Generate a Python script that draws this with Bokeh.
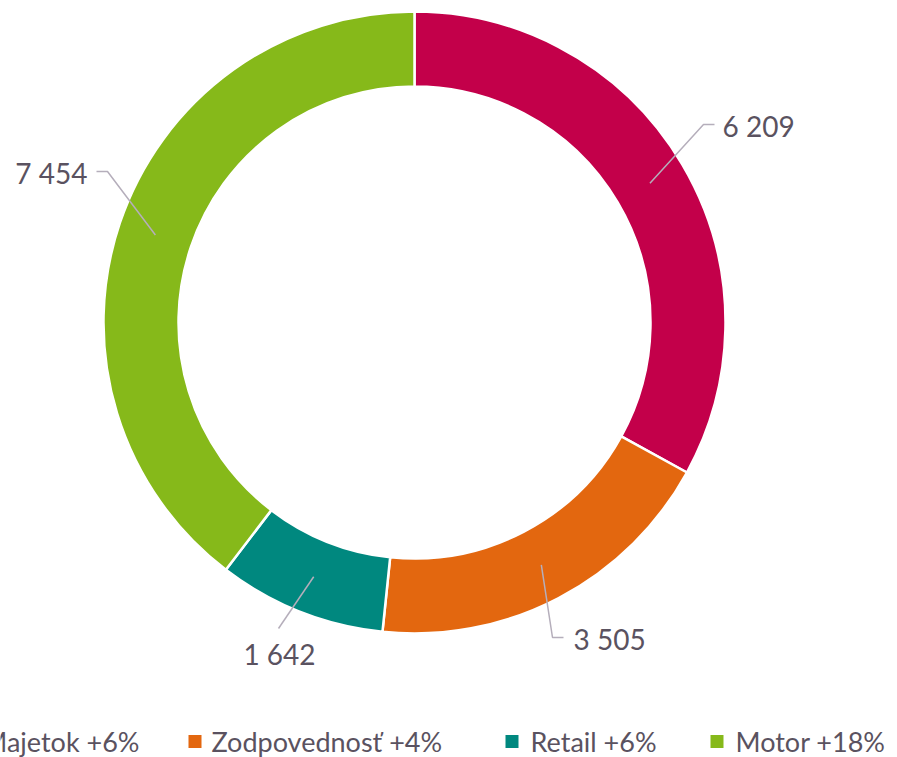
import math
from bokeh.plotting import figure
from bokeh.models import Range1d, ColumnDataSource
from bokeh.core.properties import value
from bokeh.embed import file_html
from bokeh.resources import INLINE

# ---- data ----
categories = ["Majetok", "Zodpovednosť", "Retail", "Motor"]
values = [6209, 3505, 1642, 7454]
growth = ["+6%", "+4%", "+6%", "+18%"]
colors = ["#c3004a", "#e3670f", "#00887f", "#86b91a"]

# ---- layout (pixel space, y measured from top) ----
W, H = 897, 757
CX, CY = 414, 322
R_OUT, R_IN = 311, 236
R_MID = (R_OUT + R_IN) / 2
TEXT_COLOR = "#5a5260"
LEADER_COLOR = "#b5aebb"
FONT = "Lato"

# leader elbow / end / label anchor (pixel coords) and text alignment
leader_layout = [
    dict(elbow=(703, 124), end=(714, 124), text=(722, 125), align="left"),
    dict(elbow=(552, 637), end=(563, 637), text=(573, 638), align="left"),
    dict(elbow=(278, 628), end=(278, 628), text=(279, 653), align="center"),
    dict(elbow=(107, 171), end=(96, 171), text=(87, 172), align="right"),
]
legend_marker_x = [None, 188, 505, 710]
legend_text_x = [139, 211, 530, 735]
LEGEND_Y = 741
MARK = 13

def fy(y):
    return H - y

p = figure(width=W, height=H, x_range=Range1d(0, W), y_range=Range1d(0, H),
           output_backend="svg", toolbar_location=None, min_border=0,
           x_axis_location=None, y_axis_location=None,
           outline_line_color=None, background_fill_color="white",
           border_fill_color="white")
p.xgrid.visible = False
p.ygrid.visible = False

total = sum(values)
starts, ends, mids = [], [], []
a = math.pi / 2
for v in values:
    span = 2 * math.pi * v / total
    starts.append(a - span)
    ends.append(a)
    mids.append(a - span / 2)
    a -= span

src = ColumnDataSource(dict(start=starts, end=ends, color=colors))
p.annular_wedge(x=CX, y=fy(CY), inner_radius=R_IN, outer_radius=R_OUT,
                start_angle="start", end_angle="end", fill_color="color",
                line_color="white", line_width=2.5, source=src)

# leader lines and value labels
for v, m, lay in zip(values, mids, leader_layout):
    sx = CX + R_MID * math.cos(m)
    sy = fy(CY) + R_MID * math.sin(m)
    xs = [sx, lay["elbow"][0], lay["end"][0]]
    ys = [sy, fy(lay["elbow"][1]), fy(lay["end"][1])]
    p.line(xs, ys, line_color=LEADER_COLOR, line_width=1.5)
    label = f"{v:,}".replace(",", " ")
    p.text(x=[lay["text"][0]], y=[fy(lay["text"][1])], text=[label],
           text_font=value(FONT), text_font_size="28px", text_color=TEXT_COLOR,
           text_align=lay["align"], text_baseline="middle")

# legend
for i, (c, g, col) in enumerate(zip(categories, growth, colors)):
    lab = f"{c} {g}"
    if i == 0:
        p.text(x=[legend_text_x[i]], y=[fy(LEGEND_Y)], text=[lab],
               text_font=value(FONT), text_font_size="27px", text_color=TEXT_COLOR,
               text_align="right", text_baseline="middle")
    else:
        mx = legend_marker_x[i]
        p.quad(left=[mx], right=[mx + MARK], top=[fy(LEGEND_Y - MARK / 2)],
               bottom=[fy(LEGEND_Y + MARK / 2)], fill_color=col, line_color=None)
        p.text(x=[legend_text_x[i]], y=[fy(LEGEND_Y)], text=[lab],
               text_font=value(FONT), text_font_size="27px", text_color=TEXT_COLOR,
               text_align="left", text_baseline="middle")

open("out.html", "w").write(file_html(p, INLINE))
